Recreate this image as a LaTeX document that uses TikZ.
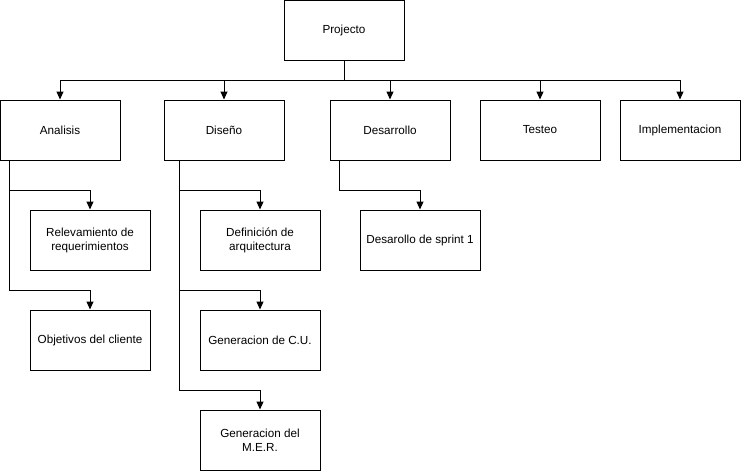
\documentclass[tikz,border=0pt]{standalone}
\usepackage{fontspec}
\setmainfont{Liberation Sans}
\usetikzlibrary{arrows.meta}

\tikzset{
  box/.style = {draw, line width=1pt, minimum width=120pt, minimum height=60pt,
    align=center, font=\fontsize{11.7}{14}\selectfont},
  link/.style = {line width=1pt, -{Triangle[length=8pt,width=7pt]}}
}

\begin{document}
\begin{tikzpicture}[x=1pt,y=-1pt]
  \useasboundingbox (0,0) rectangle (741,471);
  \node[box] (proj) at (344,30) {Projecto};
  \node[box] (anal) at (60,130) {Analisis};
  \node[box] (dise) at (224,130) {Diseño};
  \node[box] (desa) at (390,130) {Desarrollo};
  \node[box] (test) at (540,130) {Testeo};
  \node[box] (impl) at (680,130) {Implementacion};
  \node[box] (rele) at (90,240) {Relevamiento de\\requerimientos};
  \node[box] (obje) at (90,340) {Objetivos del cliente};
  \node[box] (defi) at (260,240) {Definición de\\arquitectura};
  \node[box] (gcu) at (260,340) {Generacion de C.U.};
  \node[box] (gmer) at (260,440) {Generacion del\\M.E.R.};
  \node[box] (spri) at (420,240) {Desarollo de sprint 1};
  % stems below the boxes
  \coordinate (sa) at ([xshift=10pt]anal.south west);
  \coordinate (sd) at ([xshift=16pt]dise.south west);
  \coordinate (se) at ([xshift=10pt]desa.south west);
  \foreach \n in {anal,dise,desa,test,impl}
  \draw[link] (proj.south) -- ++(0,20) -| (\n.north);
  \draw[link] (sa) -- ++(0,30) -| (rele.north);
  \draw[link] (sa) -- ++(0,130) -| (obje.north);
  \draw[link] (sd) -- ++(0,30) -| (defi.north);
  \draw[link] (sd) -- ++(0,130) -| (gcu.north);
  \draw[link] (sd) -- ++(0,230) -| (gmer.north);
  \draw[link] (se) -- ++(0,30) -| (spri.north);
\end{tikzpicture}
\end{document}
